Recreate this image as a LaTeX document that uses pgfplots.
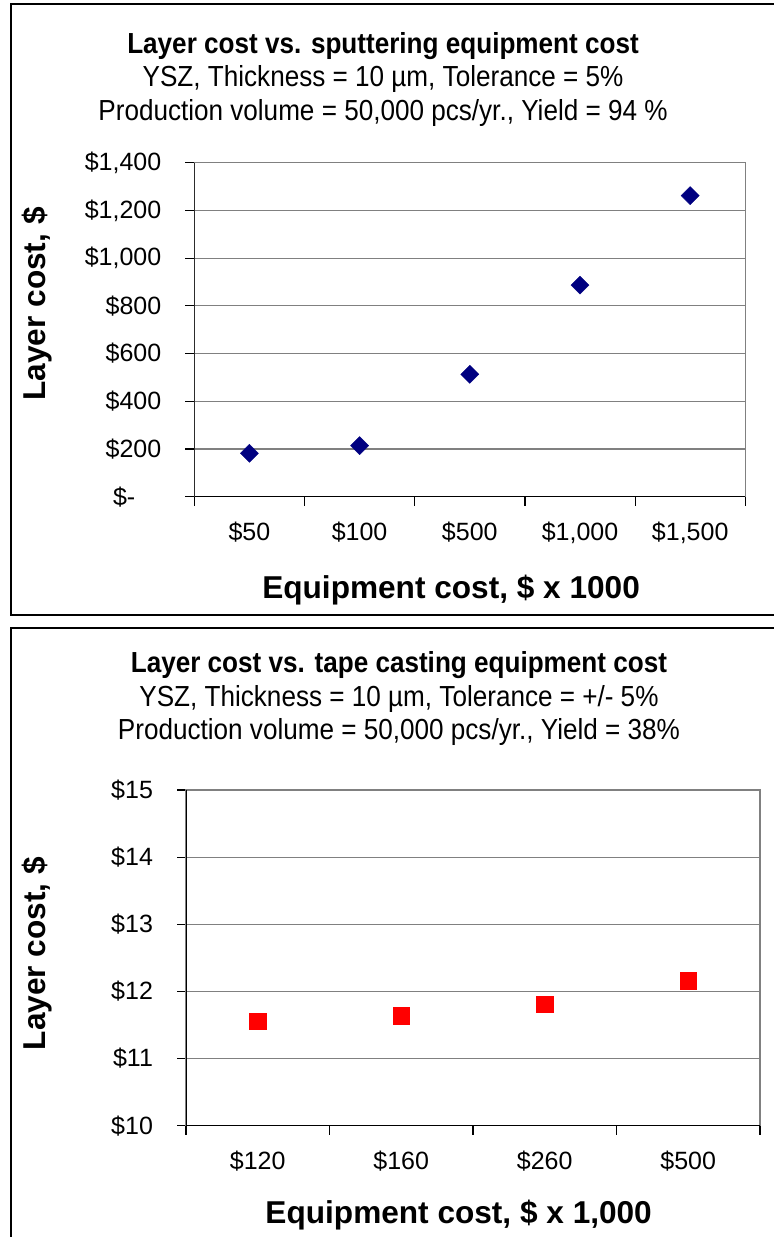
\documentclass[border=0pt]{standalone}
\usepackage{fontspec}
\setmainfont{Liberation Sans}
\newfontfamily\narrowfont[FakeStretch=0.9]{Liberation Sans}
\usepackage{pgfplots}
\pgfplotsset{compat=1.18}
\definecolor{xlnavy}{RGB}{0,0,128}
\definecolor{xlred}{RGB}{255,0,0}
\definecolor{xlgrid}{RGB}{128,128,128}

\pgfplotsset{
  xlchart/.style={
    scale only axis,
    anchor=south west,
    axis line style={xlgrid, line width=0.75pt},
    tick align=outside, tick pos=left,
    major tick length=4.5pt, minor tick length=4.5pt,
    major x tick style={draw=none},
    minor tick style={black, line width=0.6pt},
    ytick style={black, line width=0.6pt},
    ymajorgrids, grid style={xlgrid, line width=0.6pt},
    tick label style={font=\fontsize{12.5pt}{14pt}\selectfont},
    yticklabel style={anchor=east, xshift=-8.5pt},
    xticklabel style={yshift=-4.75pt},
    label style={font=\bfseries\fontsize{15.8pt}{18pt}\selectfont},
    title style={font=\narrowfont\fontsize{14.5pt}{16.75pt}\selectfont, align=center, anchor=center, yshift=-6.75pt},
  },
}

\begin{document}
\begin{tikzpicture}
\useasboundingbox (0,0) rectangle (386.5pt,-618.5pt);

% panel frames
\draw[line width=1pt] (392pt,-2pt) -- (5.5pt,-2pt) -- (5.5pt,-307.5pt) -- (392pt,-307.5pt);
\draw[line width=1pt] (392pt,-314pt) -- (5.5pt,-314pt) -- (5.5pt,-622pt);

% sputtering
\begin{axis}[xlchart,
  at={(97.15pt,-248.35pt)},
  width=275.5pt, height=167pt,
  xmin=-0.5, xmax=4.5, ymin=0, ymax=1400,
  xtick={0,...,4},
  xticklabels={{\$50},{\$100},{\$500},{\$1,000},{\$1,500}},
  minor xtick={-0.5,0.5,...,4.5},
  ytick={0,200,...,1400},
  yticklabels={{\$-\hspace*{13pt}\mbox{}},{\$200},{\$400},{\$600},{\$800},{\$1,000},{\$1,200},{\$1,400}},
  title={{\bfseries Layer cost vs. sputtering equipment cost}\\
         YSZ, Thickness = 10 µm, Tolerance = 5\%\\
         Production volume = 50,000 pcs/yr., Yield = 94 \%},
  title style={at={(rel axis cs:0.3425,1.255)}},
  xlabel={Equipment cost, \$ x 1000},
  xlabel style={at={(rel axis cs:0.466,0)}, anchor=center, yshift=-46.65pt},
  ylabel={Layer cost, \$},
  ylabel style={at={(rel axis cs:-0.2855,0.577)}, anchor=center},
]
\addplot[only marks, mark=square*, mark size=3.2pt,
  mark options={rotate=45, fill=xlnavy, draw=xlnavy, line width=0.2pt}]
  coordinates {(0,182) (1,214) (2,513) (3,887) (4,1262)};
\draw[black, line width=0.9pt] (rel axis cs:0,1) -- (rel axis cs:0,0) -- (rel axis cs:1,0);
\end{axis}

% tape casting
\begin{axis}[xlchart,
  at={(93pt,-562.85pt)},
  width=287pt, height=167.85pt,
  xmin=-0.5, xmax=3.5, ymin=10, ymax=15,
  xtick={0,...,3},
  xticklabels={{\$120},{\$160},{\$260},{\$500}},
  minor xtick={-0.5,0.5,...,3.5},
  ytick={10,...,15},
  yticklabels={{\$10},{\$11},{\$12},{\$13},{\$14},{\$15}},
  title={{\bfseries Layer cost vs. tape casting equipment cost}\\
         YSZ, Thickness = 10 µm, Tolerance = +/- 5\%\\
         Production volume = 50,000 pcs/yr., Yield = 38\%},
  title style={at={(rel axis cs:0.371,1.277)}},
  xlabel={Equipment cost, \$ x 1,000},
  xlabel style={at={(rel axis cs:0.475,0)}, anchor=center, yshift=-44.65pt},
  ylabel={Layer cost, \$},
  ylabel style={at={(rel axis cs:-0.260,0.513)}, anchor=center},
]
\addplot[only marks, mark=square*, mark size=4.15pt,
  mark options={fill=xlred, draw=xlred, line width=0.1pt}]
  coordinates {(0,11.56) (1,11.64) (2,11.81) (3,12.16)};
\draw[black, line width=0.9pt] (rel axis cs:0,1) -- (rel axis cs:0,0) -- (rel axis cs:1,0);
\end{axis}
\end{tikzpicture}
\end{document}
